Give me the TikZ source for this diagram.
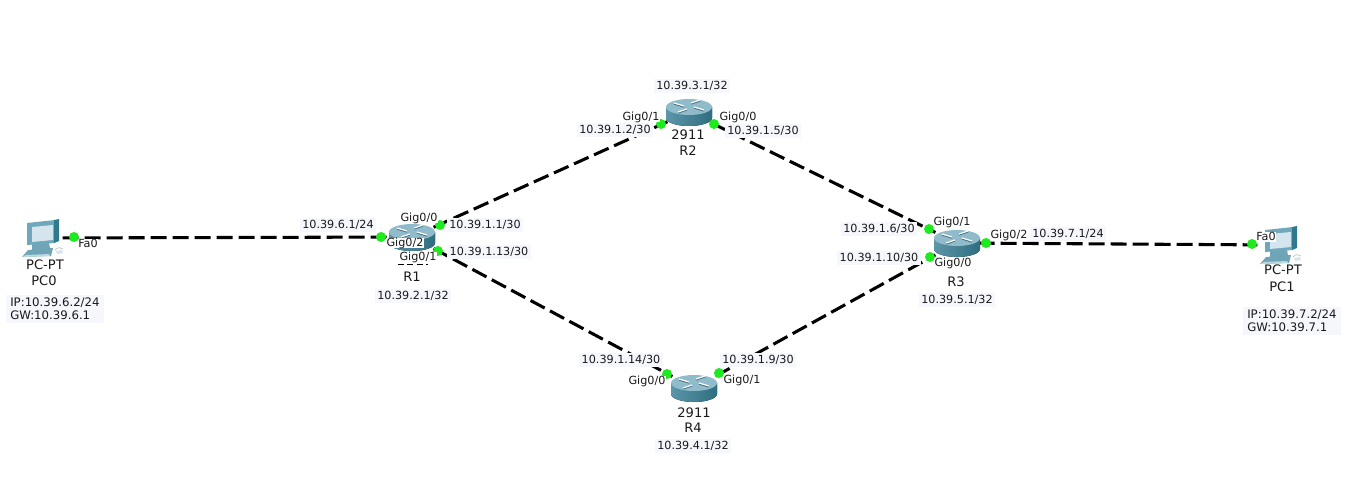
\documentclass[tikz,border=0pt]{standalone}
\usepackage{fontspec}
\setmainfont{DejaVu Sans}
\usepackage{xcolor}
\definecolor{LabelBg}{HTML}{F5F7FD}
\definecolor{PortGreen}{HTML}{1EEB1E}
\definecolor{RouterTop}{HTML}{8FBBCA}
\definecolor{RouterLeft}{HTML}{5C96A8}
\definecolor{RouterMid}{HTML}{D8E8EE}
\definecolor{RouterRight}{HTML}{2E6E80}
\definecolor{PcFrame}{HTML}{6FA8BA}
\definecolor{PcSide}{HTML}{2F7A8E}
\definecolor{PcScreen}{HTML}{D4E5ED}
\definecolor{PcBase}{HTML}{6FA5B6}
\tikzset{
  devicebox/.style={minimum width=32,minimum height=22,inner sep=0pt},
  link/.style={line width=2.3pt,draw=black,dash pattern=on 12pt off 4.5pt},
  portdot/.style={circle,fill=PortGreen,minimum size=7.5pt,inner sep=0pt},
  lab/.style={font=\fontsize{8.4}{10}\selectfont,text=black!90,inner sep=0pt},
  iplabel/.style={lab,fill=LabelBg,inner xsep=2pt,inner ysep=1.2pt,text height=6.4pt,text depth=1pt},
  portlabel/.style={lab,fill=white,inner xsep=.5pt,inner ysep=.5pt,text height=6.4pt,text depth=.5pt},
  namelabel/.style={lab,font=\fontsize{9.8}{12}\selectfont},
  notelabel/.style={lab,font=\fontsize{8.8}{10}\selectfont,fill=LabelBg,align=left,inner xsep=3pt,inner ysep=2pt},
  routerpic/.pic={
    \fill[left color=RouterLeft,middle color=RouterMid,right color=RouterRight] (-23,-5) -- (-23,6) arc[start angle=180,end angle=0,x radius=23,y radius=8] -- (23,-5) -- cycle;
    \fill[RouterTop] (0,-5) ellipse[x radius=23,y radius=8];
    \draw[RouterLeft!70!black,line width=.8pt] (-15,-8) -- (-5,-5);
    \draw[white,line width=.9pt] (-15,-9) -- (-5,-6);
    \draw[RouterLeft!70!black,line width=.8pt] (15,-1) -- (5,-4);
    \draw[white,line width=.9pt] (15,-2) -- (5,-5);
    \draw[RouterLeft!70!black,line width=.8pt] (2,-8) -- (11,-11);
    \draw[white,line width=.9pt] (2,-9) -- (11,-12);
    \draw[RouterLeft!70!black,line width=.8pt] (-2,-2) -- (-11,1);
    \draw[white,line width=.9pt] (-2,-3) -- (-11,0);
  },
  pcpic/.pic={
    \fill[PcBase] (-9,5) -- (8,4) -- (9,11) -- (-9,12) -- cycle;
    \fill[PcBase] (-13,12) -- (12,10) -- (10,18) -- (-19,19) -- cycle;
    \fill[PcFrame!45!white] (-15,17) -- (8,16) -- (9,18) -- (-19,19) -- cycle;
    \fill[PcFrame] (-14,-15) -- (14,-18) -- (14,5) -- (-14,7) -- cycle;
    \fill[PcSide] (13,-18) -- (18,-19) -- (18,3) -- (13,5) -- cycle;
    \fill[PcScreen] (-9,-11) -- (12,-13) -- (12,2) -- (-9,4) -- cycle;
    \draw[black!25,line width=.5pt] (14,12) .. controls (17,9) and (20,9) .. (22,11);
    \fill[PcFrame!30!white] (15,13) -- (21,12) -- (22,15) -- (16,16) -- cycle;
  }
}
\begin{document}
\begin{tikzpicture}[x=0.75pt,y=-0.75pt]
\useasboundingbox (0,0) rectangle (1371,492);
\node[devicebox] (PC0) at (41,238) {};
\node[devicebox] (PC1) at (1279,245) {};
\node[devicebox] (R1) at (412,237) {};
\node[devicebox] (R2) at (689,112) {};
\node[devicebox] (R3) at (957,243) {};
\node[devicebox] (R4) at (694,388) {};
\draw[link] (PC0) -- (R1);
\draw[link] (R1) -- (R2);
\draw[link] (R1) -- (R4);
\draw[link] (R2) -- (R3);
\draw[link] (R4) -- (R3);
\draw[link] (R3) -- (PC1);
\pic at (PC0) {pcpic};
\pic at (PC1) {pcpic};
\pic at (R1) {routerpic};
\pic at (R2) {routerpic};
\pic at (R3) {routerpic};
\pic at (R4) {routerpic};
\node[portdot] (dotPC0) at (74,237) {};
\node[portdot] (dotR1a) at (381,237) {};
\node[portdot] (dotR1b) at (440,225) {};
\node[portdot] (dotR1c) at (438,251) {};
\node[portdot] (dotR2a) at (661,124) {};
\node[portdot] (dotR2b) at (714,124) {};
\node[portdot] (dotR3a) at (929,229) {};
\node[portdot] (dotR3b) at (930,257) {};
\node[portdot] (dotR3c) at (986,243) {};
\node[portdot] (dotR4a) at (667,374) {};
\node[portdot] (dotR4b) at (719,373) {};
\node[portdot] (dotPC1) at (1252,244) {};
\node[portlabel] (fa0a) at (88,244) {Fa0};
\node[namelabel] (pt0) at (45,265) {PC-PT};
\node[namelabel] (name0) at (44,281) {PC0};
\node[notelabel,anchor=north west] (note0) at (6,295) {IP:10.39.6.2/24\\GW:10.39.6.1};
\node[iplabel] (ip61) at (338,225) {10.39.6.1/24};
\node[portlabel] (r1g0) at (419,218) {Gig0/0};
\node[portlabel] (r1g2) at (405,243) {Gig0/2};
\node[portlabel] (r1g1) at (418,257) {Gig0/1};
\node[iplabel] (ip11) at (485,225) {10.39.1.1/30};
\node[iplabel] (ip113) at (489,252) {10.39.1.13/30};
\coordinate (r1a) at (398,264);
\coordinate (r1b) at (428,264);
\draw[black,line width=.7pt,dash pattern=on 4.5pt off 2.5pt] (r1a) -- (r1b);
\node[namelabel] (name1) at (412,277) {R1};
\node[iplabel] (ip21) at (413,296) {10.39.2.1/32};
\node[iplabel] (ip31) at (692,86) {10.39.3.1/32};
\node[portlabel] (r2g1) at (641,117) {Gig0/1};
\node[iplabel] (ip12) at (615,130) {10.39.1.2/30};
\node[portlabel] (r2g0) at (738,117) {Gig0/0};
\node[iplabel] (ip15) at (763,131) {10.39.1.5/30};
\node[namelabel] (mod2) at (688,135) {2911};
\node[namelabel] (name2) at (688,151) {R2};
\node[portlabel] (r3g1) at (952,222) {Gig0/1};
\node[iplabel] (ip16) at (879,229) {10.39.1.6/30};
\node[iplabel] (ip110) at (879,258) {10.39.1.10/30};
\node[portlabel] (r3g0) at (953,263) {Gig0/0};
\node[portlabel] (r3g2) at (1009,235) {Gig0/2};
\node[iplabel] (ip71) at (1068,234) {10.39.7.1/24};
\node[namelabel] (name3) at (956,282) {R3};
\node[iplabel] (ip51) at (957,300) {10.39.5.1/32};
\node[iplabel] (ip114) at (621,360) {10.39.1.14/30};
\node[iplabel] (ip19) at (758,360) {10.39.1.9/30};
\node[portlabel] (r4g0) at (647,381) {Gig0/0};
\node[portlabel] (r4g1) at (742,380) {Gig0/1};
\node[namelabel] (mod4) at (694,413) {2911};
\node[namelabel] (name4) at (693,428) {R4};
\node[iplabel] (ip41) at (693,446) {10.39.4.1/32};
\node[portlabel] (fa0b) at (1266,237) {Fa0};
\node[namelabel] (pt1) at (1283,270) {PC-PT};
\node[namelabel] (name5) at (1282,287) {PC1};
\node[notelabel,anchor=north west] (note1) at (1243,307) {IP:10.39.7.2/24\\GW:10.39.7.1};
\end{tikzpicture}
\end{document}
